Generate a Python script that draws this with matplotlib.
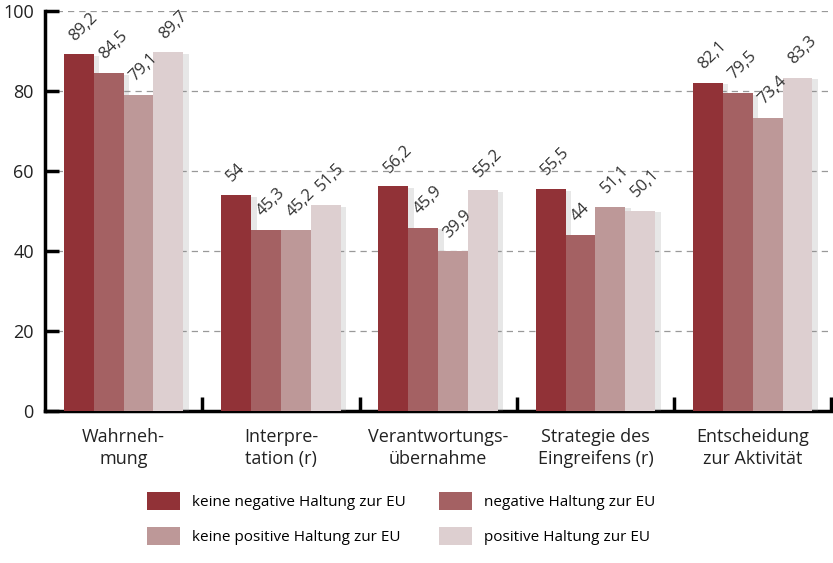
import numpy as np
import matplotlib.pyplot as plt
from matplotlib.patches import Patch
import matplotlib.patheffects as pe

plt.rcParams['font.family'] = ['Open Sans', 'DejaVu Sans']

categories = ['Wahrneh-\nmung', 'Interpre-\ntation (r)', 'Verantwortungs-\nübernahme',
              'Strategie des\nEingreifens (r)', 'Entscheidung\nzur Aktivität']
series_names = ['keine negative Haltung zur EU', 'negative Haltung zur EU',
                'keine positive Haltung zur EU', 'positive Haltung zur EU']
keine_negativ = [89.2, 54, 56.2, 55.5, 82.1]
negativ = [84.5, 45.3, 45.9, 44, 79.5]
keine_positiv = [79.1, 45.2, 39.9, 51.1, 73.4]
positiv = [89.7, 51.5, 55.2, 50.1, 83.3]
series = [keine_negativ, negativ, keine_positiv, positiv]
colors = ['#913237', '#A46163', '#BD9898', '#DDCFD0']

fig = plt.figure(figsize=(8.33, 5.63), dpi=100)
ax = fig.add_axes([0.054, 0.27, 0.944, 0.71])

x = np.arange(len(categories))
w = 0.19
shadow = [pe.SimplePatchShadow(offset=(4, -1), shadow_rgbFace='#888888', alpha=0.2), pe.Normal()]
for i, (vals, col) in enumerate(zip(series, colors)):
    pos = x + (i - 1.5) * w
    ax.bar(pos, vals, width=w, color=col, zorder=3, path_effects=shadow)
    for p, v in zip(pos, vals):
        txt = ('%g' % v).replace('.', ',')
        ax.text(p - 0.025, v + 3.3, txt, rotation=45, rotation_mode='anchor',
                ha='left', va='baseline', fontsize=12, color='#333333', zorder=4)

ax.set_xlim(-0.5, 4.5)
ax.set_ylim(0, 100)
ax.set_yticks([0, 20, 40, 60, 80, 100])
ax.yaxis.grid(True, linestyle=(0, (5, 4)), color='#999999', linewidth=0.9, zorder=0)
ax.tick_params(axis='y', direction='in', length=10, width=2.5, labelsize=13,
               labelcolor='#222222', pad=8)
ax.set_xticks(x)
ax.set_xticklabels(categories, fontsize=13, color='#222222', linespacing=1.3)
ax.tick_params(axis='x', length=0, pad=12)
ax.set_xticks(np.arange(0.5, 5, 1), minor=True)
ax.tick_params(axis='x', which='minor', direction='in', length=10, width=2.5)

for s in ['top', 'right']:
    ax.spines[s].set_visible(False)
ax.spines['left'].set_linewidth(2.5)
ax.spines['bottom'].set_linewidth(2.5)

# matplotlib fills legend columns first, so reorder to get rows as in the original
order = [0, 2, 1, 3]
handles = [Patch(facecolor=colors[k], label=series_names[k]) for k in order]
fig.legend(handles=handles, loc='upper left', bbox_to_anchor=(147 / 833, 1 - 492 / 563), ncol=2,
           frameon=False, fontsize=11, handlelength=2.15, handleheight=1.45,
           columnspacing=2.2, labelspacing=1.1, handletextpad=0.8, borderpad=0,
           borderaxespad=0)

plt.savefig('out.png', dpi=100)
